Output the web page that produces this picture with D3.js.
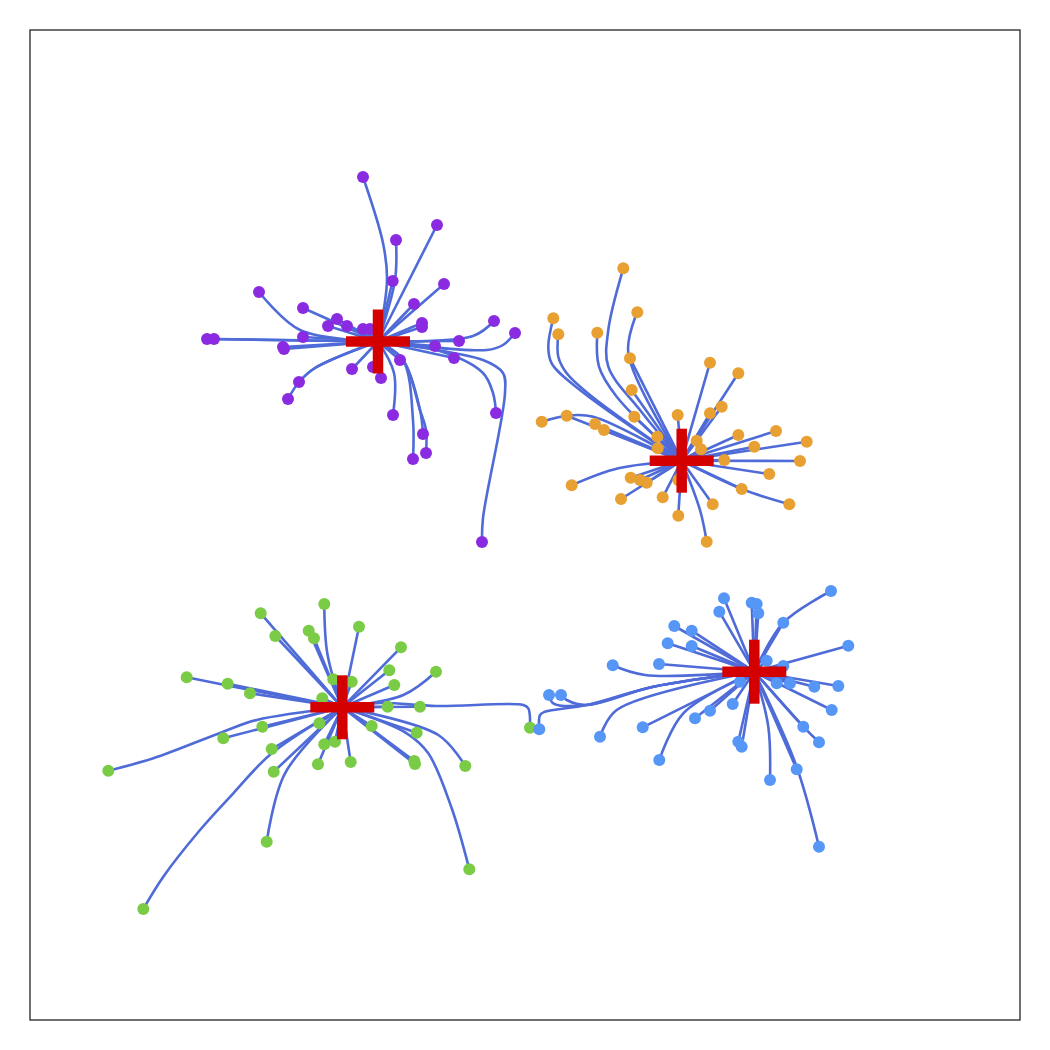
<!DOCTYPE html>
<html>
<head>
<meta charset="utf-8">
<script src="https://cdn.jsdelivr.net/npm/d3@7"></script>
<style>
  body { margin: 0; background: #fff; }
</style>
</head>
<body>
<div id="chart"></div>
<script>
// Datos: cada punto es [x, y, rutaOpcional] en unidades del gráfico
// la ruta va del punto hacia el centroide
const centroides = [[37.8, 70.85], [68.17, 58.93], [34.23, 34.27], [75.43, 37.83]]
const colores = ['#8a2be2', '#e8a032', '#7acb45', '#5596f7']

const puntosMorado = [
  [36.3, 87.3, [[38.3, 80.7], [38.7, 77.0]]],
  [43.7, 82.5],
  [39.6, 81.0, [[39.5, 77.0]]],
  [39.27, 76.9],
  [44.4, 76.6],
  [41.4, 74.6],
  [42.2, 72.7], [42.2, 72.3],
  [49.4, 72.9, [[47.3, 71.4]]],
  [51.5, 71.7, [[50.3, 70.5], [48.7, 70.0]]],
  [25.9, 75.8, [[30.0, 72.0]]],
  [30.3, 74.2],
  [33.7, 73.1],
  [32.8, 72.4],
  [34.7, 72.4],
  [36.3, 72.1], [37.0, 72.1],
  [30.3, 71.3],
  [20.7, 71.1], [21.4, 71.1],
  [28.3, 70.3], [28.4, 70.1],
  [43.5, 70.4],
  [45.9, 70.9],
  [45.4, 69.2],
  [40.0, 69.0],
  [35.2, 68.1],
  [37.3, 68.3],
  [38.1, 67.2],
  [29.9, 66.8, [[31.5, 68.2]]],
  [28.8, 65.1, [[29.9, 66.8], [31.5, 68.2]]],
  [39.3, 63.5, [[39.4, 67.7]]],
  [49.6, 63.7, [[49.3, 65.7], [48.3, 67.7], [44.3, 69.8]]],
  [42.3, 61.6, [[42.0, 64.0], [40.3, 69.0]]],
  [42.6, 59.7, [[42.6, 62.0], [42.0, 64.0], [40.3, 69.0]]],
  [41.3, 59.1, [[41.3, 63.0], [40.3, 69.0]]],
  [48.2, 50.8, [[48.3, 53.2], [50.5, 65.7], [50.3, 67.7], [48.3, 69.0]]]
]

const puntosNaranja = [
  [62.33, 78.17, [[60.83, 72.0], [60.83, 68.33], [64.0, 64.0]]],
  [55.33, 73.17, [[54.83, 70.33], [55.17, 68.67], [58.0, 66.0]]],
  [55.83, 71.57, [[55.83, 69.33], [56.67, 67.67], [59.0, 65.5]]],
  [59.73, 71.73, [[59.9, 68.33], [61.67, 65.33]]],
  [63.73, 73.77, [[62.83, 69.67]]],
  [63.0, 69.17],
  [63.17, 66.0],
  [63.43, 63.33],
  [54.17, 62.83, [[56.67, 63.43], [59.33, 63.33]]],
  [56.67, 63.43],
  [59.5, 62.6],
  [60.4, 62.0],
  [65.73, 61.33],
  [65.77, 60.17],
  [67.77, 63.5],
  [71.0, 68.73],
  [73.83, 67.67],
  [72.17, 64.33],
  [71.0, 63.67],
  [69.67, 60.93],
  [70.1, 60.07],
  [73.83, 61.5],
  [77.6, 61.9],
  [75.43, 60.33],
  [80.67, 60.83],
  [72.43, 59.0],
  [80.0, 58.9],
  [76.93, 57.6],
  [74.17, 56.1],
  [78.93, 54.57, [[74.17, 56.1]]],
  [57.17, 56.47, [[61.83, 58.17]]],
  [63.07, 57.23],
  [64.0, 57.0], [64.67, 56.73],
  [62.1, 55.1],
  [66.27, 55.27],
  [67.83, 57.0],
  [67.83, 53.43],
  [71.27, 54.57],
  [70.67, 50.83, [[70.0, 54.0]]]
]

const puntosVerde = [
  [32.43, 44.6, [[32.73, 39.67]]],
  [26.07, 43.67],
  [27.53, 41.4],
  [30.87, 41.93],
  [31.4, 41.17],
  [35.9, 42.33],
  [40.1, 40.27],
  [38.93, 37.97],
  [39.43, 36.5],
  [43.6, 37.83, [[40.33, 35.5]]],
  [33.33, 37.07],
  [35.17, 36.83],
  [18.67, 37.27, [[25.0, 36.0]]],
  [22.77, 36.63],
  [25.0, 35.67],
  [32.23, 35.17],
  [38.77, 34.33],
  [42.0, 34.33],
  [53.0, 32.23, [[52.83, 34.17], [52.33, 34.5], [43.67, 34.4], [38.0, 34.7]]],
  [37.17, 32.4],
  [31.93, 32.67],
  [26.23, 32.33],
  [22.33, 31.17],
  [10.83, 27.93, [[15.33, 29.17], [22.33, 31.83], [25.67, 33.0]]],
  [27.17, 30.1],
  [32.43, 30.57],
  [33.5, 30.83],
  [41.67, 31.73],
  [27.37, 27.83],
  [31.8, 28.57],
  [35.07, 28.8],
  [41.43, 28.9], [41.5, 28.6],
  [46.53, 28.4, [[43.83, 31.5]]],
  [26.67, 20.83, [[28.5, 27.67]]],
  [46.93, 18.07, [[45.17, 24.17], [42.83, 29.67], [40.67, 31.67]]],
  [14.33, 14.1, [[16.33, 17.33], [20.0, 22.0], [23.33, 25.67], [27.17, 29.67]]]
]

const puntosAzul = [
  [83.1, 45.9, [[78.33, 42.73]]],
  [72.4, 45.17],
  [71.93, 43.83],
  [75.17, 44.73], [75.67, 44.6],
  [75.83, 43.67],
  [78.33, 42.73],
  [67.43, 42.4],
  [69.17, 41.93],
  [66.77, 40.67],
  [69.17, 40.4],
  [84.83, 40.43],
  [61.27, 38.47, [[64.5, 37.5]]],
  [65.9, 38.6],
  [76.67, 38.93],
  [78.33, 38.4],
  [77.67, 36.67],
  [79.0, 36.67],
  [81.43, 36.33],
  [83.83, 36.4],
  [74.0, 36.83],
  [54.9, 35.5, [[55.33, 34.67], [58.67, 34.5], [65.33, 36.33]]],
  [56.1, 35.5, [[56.67, 35.0], [58.67, 34.5], [65.33, 36.33]]],
  [53.93, 32.07, [[54.0, 33.5], [54.5, 33.83], [58.67, 34.5], [65.33, 36.33]]],
  [60.0, 31.33, [[61.67, 34.0]]],
  [64.27, 32.27],
  [65.93, 29.0, [[68.33, 33.67]]],
  [69.5, 33.17],
  [71.0, 33.93],
  [73.27, 34.6],
  [83.17, 34.0],
  [80.33, 32.33],
  [81.9, 30.77, [[80.33, 32.33]]],
  [73.83, 30.83], [74.17, 30.33],
  [77.0, 27.0, [[76.83, 32.33]]],
  [79.67, 28.07],
  [81.9, 20.33, [[79.6, 28.5]]]
]

const grupos = [puntosMorado, puntosNaranja, puntosVerde, puntosAzul]

const ancho = 1050, alto = 1050
const margen = { top: 30, left: 30, right: 30, bottom: 30 }

const svg = d3.select('#chart')
  .append('svg')
  .attr('width', ancho)
  .attr('height', alto)

const x = d3.scaleLinear().domain([3, 102]).range([margen.left, ancho - margen.right])
const y = d3.scaleLinear().domain([3, 102]).range([alto - margen.bottom, margen.top])

// Marco
svg.append('rect')
  .attr('x', margen.left)
  .attr('y', margen.top)
  .attr('width', ancho - margen.left - margen.right)
  .attr('height', alto - margen.top - margen.bottom)
  .attr('fill', 'none')
  .attr('stroke', '#333')
  .attr('stroke-width', 1.4)

const linea = d3.line()
  .x(d => x(d[0]))
  .y(d => y(d[1]))
  .curve(d3.curveCatmullRom.alpha(0.5))

const gLineas = svg.append('g')
const gPuntos = svg.append('g')
const gCentros = svg.append('g')

grupos.forEach((puntos, i) => {
  const c = centroides[i]
  gLineas.selectAll(null)
    .data(puntos)
    .enter()
    .append('path')
    .attr('d', d => linea([[d[0], d[1]], ...(d[2] || []), c]))
    .attr('fill', 'none')
    .attr('stroke', '#4f6bd8')
    .attr('stroke-width', 2.6)
    .attr('stroke-linejoin', 'round')

  gPuntos.selectAll(null)
    .data(puntos)
    .enter()
    .append('circle')
    .attr('cx', d => x(d[0]))
    .attr('cy', d => y(d[1]))
    .attr('r', 6)
    .attr('fill', colores[i])
})

// Centroides como cruces rojas
const brazo = 32
centroides.forEach(c => {
  const cx = x(c[0]), cy = y(c[1])
  gCentros.append('line')
    .attr('x1', cx - brazo).attr('x2', cx + brazo)
    .attr('y1', cy).attr('y2', cy)
    .attr('stroke', '#d40000').attr('stroke-width', 10.5)
  gCentros.append('line')
    .attr('x1', cx).attr('x2', cx)
    .attr('y1', cy - brazo).attr('y2', cy + brazo)
    .attr('stroke', '#d40000').attr('stroke-width', 10.5)
})
</script>
</body>
</html>
